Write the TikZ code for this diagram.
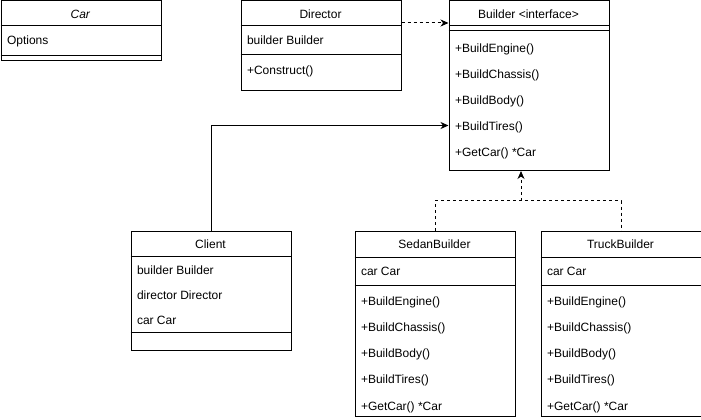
\documentclass[tikz,border=0pt]{standalone}
\usepackage{fontspec}
\setmainfont{Liberation Sans}
\usetikzlibrary{arrows.meta}
\begin{document}
\begin{tikzpicture}[x=1pt,y=-1pt,
  font=\fontsize{12}{14}\selectfont,
  line width=1pt,
  cls/.style={draw, rectangle, inner sep=0pt, anchor=north west, minimum width=160pt},
  hdr/.style={anchor=center, inner sep=0pt, text height=11.4pt, text depth=1.6pt},
  item/.style={anchor=west, inner sep=0pt, text height=11.4pt, text depth=1.6pt},
  arr/.style={-{Stealth[length=8pt,width=7pt,inset=2.5pt]}},
  dsh/.style={dash pattern=on 3pt off 3pt}]
\useasboundingbox (0,0) rectangle (701,420);

% Car
\node[cls, minimum height=59.5pt] (car) at (0.5,0.5) {};
\draw (0.5,26) -- (160.5,26);
\draw (0.5,56) -- (160.5,56);
\node[hdr] (carT) at (80.5,14) {\textit{Car}};
\node[item] (carA) at (6.5,40) {Options};

% Director
\node[cls, minimum height=89.5pt] (director) at (240.5,0.5) {};
\draw (240.5,26) -- (400.5,26);
\draw (240.5,54.5) -- (400.5,54.5);
\node[hdr] (dirT) at (320.5,14) {Director};
\node[item] (dirA) at (246.5,40) {builder Builder};
\node[item] (dirM) at (246.5,70) {+Construct()};

% Builder
\node[cls, minimum height=169.5pt] (builder) at (448.5,0.5) {};
\draw (448.5,26) -- (608.5,26);
\draw (448.5,30.5) -- (608.5,30.5);
\node[hdr] (bT) at (528.5,14) {Builder <interface>};
\node[item] (b1) at (454.5,48) {+BuildEngine()};
\node[item] (b2) at (454.5,74) {+BuildChassis()};
\node[item] (b3) at (454.5,100) {+BuildBody()};
\node[item] (b4) at (454.5,126) {+BuildTires()};
\node[item] (b5) at (454.5,152) {+GetCar() *Car};

% Client
\node[cls, minimum height=119.5pt] (client) at (130.5,230.5) {};
\draw (130.5,256) -- (290.5,256);
\draw (130.5,332) -- (290.5,332);
\node[hdr] (cT) at (210.5,244) {Client};
\node[item] (c1) at (136.5,270) {builder Builder};
\node[item] (c2) at (136.5,294.5) {director Director};
\node[item] (c3) at (136.5,319.5) {car Car};

% SedanBuilder
\node[cls, minimum height=185.5pt] (sedan) at (354.5,230.5) {};
\draw (354.5,257.5) -- (514.5,257.5);
\draw (354.5,285.5) -- (514.5,285.5);
\node[hdr] (sT) at (434.5,244) {SedanBuilder};
\node[item] (sA) at (360.5,271) {car Car};
\node[item] (s1) at (360.5,300.5) {+BuildEngine()};
\node[item] (s2) at (360.5,326.5) {+BuildChassis()};
\node[item] (s3) at (360.5,352.5) {+BuildBody()};
\node[item] (s4) at (360.5,379) {+BuildTires()};
\node[item] (s5) at (360.5,405.5) {+GetCar() *Car};

% TruckBuilder
\node[cls, minimum height=185.5pt] (truck) at (540.5,230.5) {};
\draw (540.5,257.5) -- (700.5,257.5);
\draw (540.5,285.5) -- (700.5,285.5);
\node[hdr] (tT) at (620.5,244) {TruckBuilder};
\node[item] (tA) at (546.5,271) {car Car};
\node[item] (t1) at (546.5,300.5) {+BuildEngine()};
\node[item] (t2) at (546.5,326.5) {+BuildChassis()};
\node[item] (t3) at (546.5,352.5) {+BuildBody()};
\node[item] (t4) at (546.5,379) {+BuildTires()};
\node[item] (t5) at (546.5,405.5) {+GetCar() *Car};

% Connectors
\draw[dsh, arr] (director.east |- 0,23) -- (builder.west |- 0,23);
\draw[arr] (client.north) |- (builder.west |- 0,125.5);
\coordinate (j) at (521,200.5);
\draw[dsh] (sedan.north) |- (j) -| (truck.north);
\draw[dsh, arr] (j) -- (builder.south -| j);
\end{tikzpicture}
\end{document}
